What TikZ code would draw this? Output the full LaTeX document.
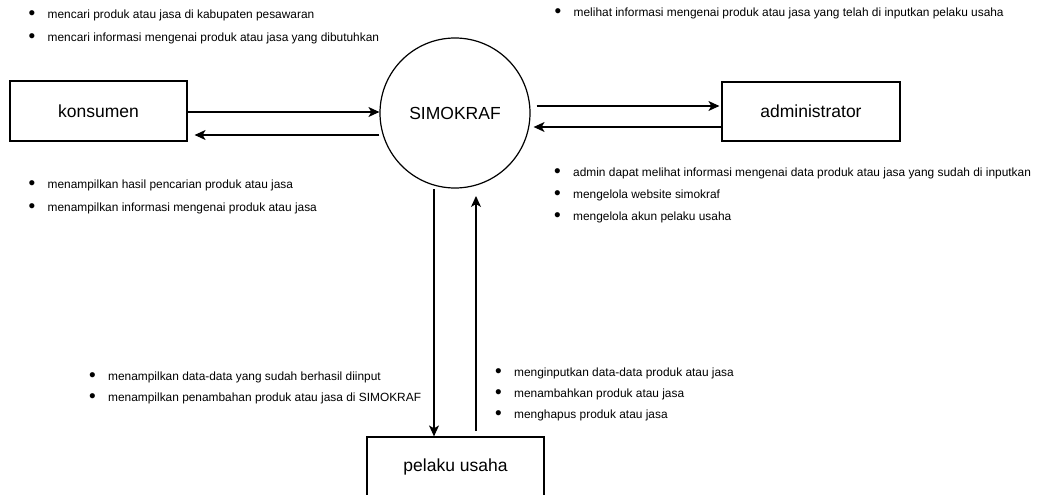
\documentclass[tikz,border=0pt]{standalone}
\usepackage{fontspec}
\setmainfont{Liberation Sans}
\usetikzlibrary{arrows.meta,calc}
\begin{document}
\begin{tikzpicture}[x=1pt,y=-1pt,
  box/.style={draw, line width=1.2pt, inner sep=0pt, font=\fontsize{17.5}{20}\selectfont},
  circ/.style={draw, circle, line width=1.2pt, inner sep=0pt, minimum size=150pt, font=\fontsize{17.5}{20}\selectfont},
  arr/.style={line width=1.2pt, -{Stealth[length=11pt,width=10pt,inset=3pt]}},
  item/.style={anchor=west, inner sep=0pt, font=\fontsize{11.9}{13}\selectfont}]
\useasboundingbox (0,0) rectangle (1037,495);
% boxes
\node[box, minimum width=177pt, minimum height=60pt] (kons) at (98.5,111) {konsumen};
\node[circ] (sim) at (455,113) {SIMOKRAF};
\node[box, minimum width=178pt, minimum height=59pt] (admin) at (811,111.5) {administrator};
\node[box, minimum width=177pt, minimum height=60pt] (pel) at (455.5,467) {pelaku usaha};
% connectors
\coordinate (k1) at (kons.east |- 0,112);
\coordinate (s1) at (sim.west |- 0,112);
\draw[arr] (k1) -- (s1);
\coordinate (s2) at ($(sim.west |- 0,135)+(0,0)$);
\coordinate (k2) at ($(kons.east |- 0,135)+(7,0)$);
\draw[arr] (s2) -- (k2);
\coordinate (s3) at ($(sim.east |- 0,106)+(6,0)$);
\coordinate (a3) at ($(admin.west |- 0,106)+(-2,0)$);
\draw[arr] (s3) -- (a3);
\coordinate (a4) at (admin.west |- 0,127);
\coordinate (s4) at ($(sim.east |- 0,127)+(3,0)$);
\draw[arr] (a4) -- (s4);
\coordinate (s5) at (434,189);
\coordinate (p5) at (pel.north -| s5);
\draw[arr] (s5) -- (p5);
\coordinate (p6) at (476,431);
\coordinate (s6) at (476,196);
\draw[arr] (p6) -- (s6);
% bullet texts
\newcommand{\bl}{\makebox[19pt][l]{\raisebox{-1.6pt}{\fontsize{19}{19}\selectfont •}}}
\node[item] (t1) at (28.5,15) {\bl mencari produk atau jasa di kabupaten pesawaran};
\node[item] (t2) at (28.5,38) {\bl mencari informasi mengenai produk atau jasa yang dibutuhkan};
\node[item] (t3) at (554.5,13) {\bl melihat informasi mengenai produk atau jasa yang telah di inputkan pelaku usaha};
\node[item] (t4) at (28.5,185) {\bl menampilkan hasil pencarian produk atau jasa};
\node[item] (t5) at (28.5,208) {\bl menampilkan informasi mengenai produk atau jasa};
\node[item] (t6) at (554,173) {\bl admin dapat melihat informasi mengenai data produk atau jasa yang sudah di inputkan};
\node[item] (t7) at (554,195) {\bl mengelola website simokraf};
\node[item] (t8) at (554,217) {\bl mengelola akun pelaku usaha};
\node[item] (t9) at (89,377) {\bl menampilkan data-data yang sudah berhasil diinput};
\node[item] (t10) at (89,398) {\bl menampilkan penambahan produk atau jasa di SIMOKRAF};
\node[item] (t11) at (495,373) {\bl menginputkan data-data produk atau jasa};
\node[item] (t12) at (495,394) {\bl menambahkan produk atau jasa};
\node[item] (t13) at (495,415) {\bl menghapus produk atau jasa};
\end{tikzpicture}
\end{document}
